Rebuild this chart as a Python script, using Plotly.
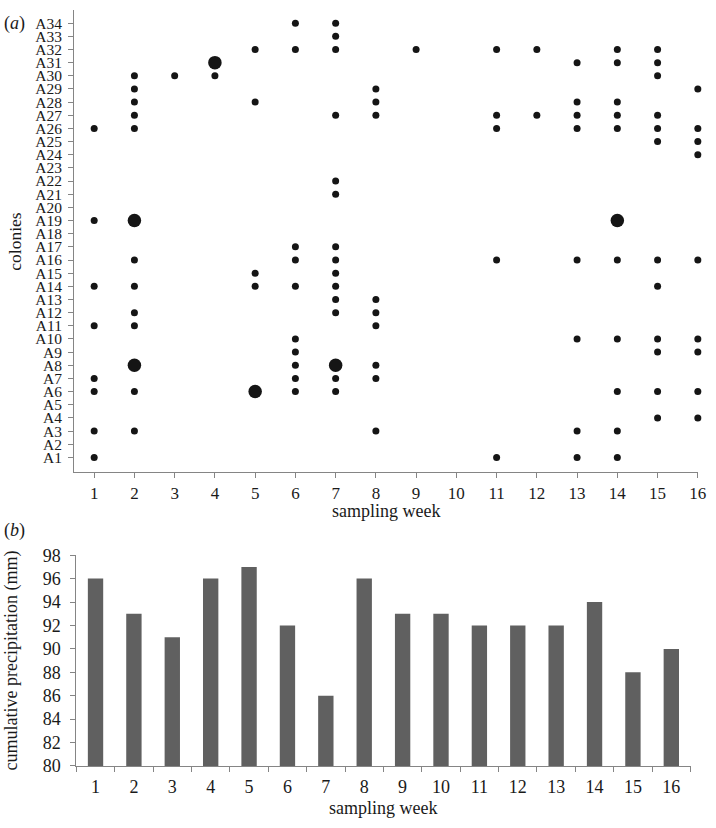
import plotly.graph_objects as go

# ---------------- data ----------------
weeks = list(range(1, 17))
colonies = [f"A{i}" for i in range(1, 35)]

# sampling weeks in which each colony (A1..A34) was detected
detection_weeks = [
    [1, 11, 13, 14],                 # A1
    [],                              # A2
    [1, 2, 8, 13, 14],               # A3
    [15, 16],                        # A4
    [],                              # A5
    [1, 2, 5, 6, 7, 14, 15, 16],     # A6
    [1, 6, 7, 8],                    # A7
    [2, 6, 7, 8],                    # A8
    [6, 15, 16],                     # A9
    [6, 13, 14, 15, 16],             # A10
    [1, 2, 8],                       # A11
    [2, 7, 8],                       # A12
    [7, 8],                          # A13
    [1, 2, 5, 6, 7, 15],             # A14
    [5, 7],                          # A15
    [2, 6, 7, 11, 13, 14, 15, 16],   # A16
    [6, 7],                          # A17
    [],                              # A18
    [1, 2, 14],                      # A19
    [],                              # A20
    [7],                             # A21
    [7],                             # A22
    [],                              # A23
    [16],                            # A24
    [15, 16],                        # A25
    [1, 2, 11, 13, 14, 15, 16],      # A26
    [2, 7, 8, 11, 12, 13, 14, 15],   # A27
    [2, 5, 8, 13, 14],               # A28
    [2, 8, 16],                      # A29
    [2, 3, 4, 15],                   # A30
    [4, 13, 14, 15],                 # A31
    [5, 6, 7, 9, 11, 12, 14, 15],    # A32
    [7],                             # A33
    [6, 7],                          # A34
]

# detections drawn with a large marker
large_colonies = ["A6", "A8", "A8", "A19", "A19", "A31"]
large_weeks = [5, 2, 7, 2, 14, 4]

precipitation = [96, 93, 91, 96, 97, 92, 86, 96, 93, 93, 92, 92, 92, 94, 88, 90]

# ---------------- build ----------------
large_set = set(zip(large_colonies, large_weeks))
sx, sy, bx, by = [], [], [], []
for idx, (col, wks) in enumerate(zip(colonies, detection_weeks)):
    for w in wks:
        if (col, w) in large_set:
            bx.append(w); by.append(idx + 1)
        else:
            sx.append(w); sy.append(idx + 1)

FONT = "Liberation Serif"
AX = "#858585"
DOT = "#151515"
TXT = "#1a1a1a"

fig = go.Figure()
fig.add_trace(go.Scatter(x=sx, y=sy, mode="markers", cliponaxis=False,
                         marker=dict(size=7, color=DOT), xaxis="x", yaxis="y",
                         showlegend=False, hoverinfo="skip"))
fig.add_trace(go.Scatter(x=bx, y=by, mode="markers", cliponaxis=False,
                         marker=dict(size=13.5, color=DOT), xaxis="x", yaxis="y",
                         showlegend=False, hoverinfo="skip"))
fig.add_trace(go.Bar(x=[str(w) for w in weeks], y=precipitation,
                     marker=dict(color="#606060", line=dict(width=0)),
                     xaxis="x2", yaxis="y2", showlegend=False, hoverinfo="skip"))

W, H = 716, 828
# plot-area pixel boxes
TOP_L, TOP_R, TOP_T, TOP_B = 75, 706.7, 0, 473.3
BOT_L, BOT_R, BOT_T, BOT_B = 77.3, 699.3, 558.7, 774.7

common = dict(showline=True, linecolor=AX, linewidth=1,
              ticks="outside", ticklen=5, tickcolor=AX,
              showgrid=False, zeroline=False)

fig.update_layout(
    width=W, height=H,
    margin=dict(l=0, r=0, t=0, b=0),
    paper_bgcolor="white", plot_bgcolor="white",
    font=dict(family=FONT, color=TXT, size=17),
    bargap=0.6,
    xaxis=dict(domain=[TOP_L / W, TOP_R / W], anchor="y", range=[0.5, 16.0],
               tickvals=weeks, ticktext=[str(w) for w in weeks],
               tickfont=dict(size=17), ticklabelstandoff=1, **common),
    yaxis=dict(domain=[1 - TOP_B / H, 1 - TOP_T / H], anchor="x", range=[-0.1, 35.0],
               tickvals=list(range(1, 35)), ticktext=colonies,
               tickfont=dict(size=15.5), ticklabelstandoff=3, **common),
    xaxis2=dict(domain=[BOT_L / W, BOT_R / W], anchor="y2", type="category",
                tickson="boundaries", tickfont=dict(size=18),
                ticklabelstandoff=4, **common),
    yaxis2=dict(domain=[1 - BOT_B / H, 1 - BOT_T / H], anchor="x2", range=[80, 98],
                dtick=2, tick0=80, tickfont=dict(size=18),
                ticklabelstandoff=6, **common),
    annotations=[
        dict(text="(<i>a</i>)", x=2 / W, y=1 - 14 / H, xref="paper", yref="paper",
             xanchor="left", yanchor="middle", showarrow=False, font=dict(size=18)),
        dict(text="(<i>b</i>)", x=2 / W, y=1 - 533 / H, xref="paper", yref="paper",
             xanchor="left", yanchor="middle", showarrow=False, font=dict(size=18)),
        # axis titles
        dict(text="sampling week", x=(TOP_L + TOP_R) / 2 / W, y=1 - 513 / H,
             xref="paper", yref="paper", xanchor="center", yanchor="middle",
             showarrow=False, font=dict(size=18)),
        dict(text="colonies", x=15 / W, y=1 - (TOP_T + TOP_B) / 2 / H, textangle=-90,
             xref="paper", yref="paper", xanchor="center", yanchor="middle",
             showarrow=False, font=dict(size=17.5)),
        dict(text="sampling week", x=(BOT_L + BOT_R) / 2 / W, y=1 - 818 / H,
             xref="paper", yref="paper", xanchor="center", yanchor="middle",
             showarrow=False, font=dict(size=18)),
        dict(text="cumulative precipitation (mm)", x=12 / W, y=1 - (BOT_T + BOT_B) / 2 / H,
             textangle=-90, xref="paper", yref="paper", xanchor="center", yanchor="middle",
             showarrow=False, font=dict(size=18)),
    ],
)

fig.write_html(
    "out.html",
    config={"displayModeBar": False, "staticPlot": True},
    post_script="document.body.style.margin='0';document.body.style.overflow='hidden';",
)
